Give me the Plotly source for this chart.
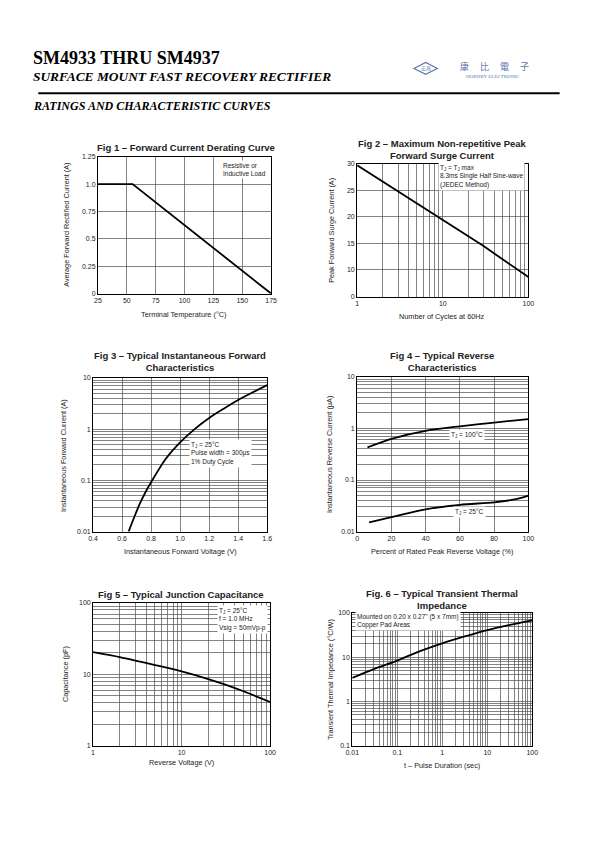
import plotly.graph_objects as go

W, H = 595, 842

# ---------------- data ----------------
# Fig 1
f1_temp = [25, 55, 175]
f1_current = [1.0, 1.0, 0.0]
f1_xticks = [25, 50, 75, 100, 125, 150, 175]
f1_yticks = [0, 0.25, 0.5, 0.75, 1.0, 1.25]
f1_ytext = ["0", "0.25", "0.5", "0.75", "1.0", "1.25"]

# Fig 2
f2_cycles = [1, 2, 3, 5, 10, 20, 30, 50, 100]
f2_current = [29.7, 26.6, 24.8, 22.5, 19.5, 16.4, 14.5, 12.0, 8.7]
f2_yticks = [5, 10, 15, 20, 25, 30]
f2_ytext = ["0", "10", "15", "20", "25", "30"]

# Fig 3
f3_voltage = [0.645, 0.68, 0.72, 0.76, 0.8, 0.9, 1.0, 1.1, 1.2, 1.3, 1.4, 1.5, 1.6]
f3_current = [0.01, 0.018, 0.034, 0.058, 0.092, 0.26, 0.55, 1.0, 1.65, 2.5, 3.7, 5.2, 7.2]
f3_xticks = [0.4, 0.6, 0.8, 1.0, 1.2, 1.4, 1.6]
f3_xtext = ["0.4", "0.6", "0.8", "1.0", "1.2", "1.4", "1.6"]

# Fig 4
f4_pct100 = [6, 20, 40, 60, 80, 100]
f4_i100 = [0.43, 0.63, 0.9, 1.1, 1.3, 1.52]
f4_pct25 = [7, 20, 40, 60, 80, 92, 100]
f4_i25 = [0.015, 0.019, 0.027, 0.033, 0.037, 0.042, 0.05]
f4_xticks = [0, 20, 40, 60, 80, 100]

# Fig 5
f5_voltage = [1, 2, 3, 5, 10, 20, 30, 50, 100]
f5_cap = [20.5, 17.5, 15.6, 13.5, 11.0, 8.6, 7.3, 5.8, 4.1]

# Fig 6
f6_time = [0.01, 0.03, 0.1, 0.3, 1, 3, 10, 30, 100]
f6_imp = [3.4, 5.4, 8.4, 13.4, 20.6, 29, 41, 53, 68]

# ---------------- helpers ----------------
FONT = "Arial, Liberation Sans, sans-serif"
SERIF = "Times New Roman, Liberation Serif, serif"
GRID = "#505050"
BLUE = "#5b78ad"


def px(x):
    return x / W


def py(y):
    return 1 - y / H


def log_major(lo_exp, hi_exp):
    vals = [10 ** e for e in range(lo_exp, hi_exp + 1)]
    return vals, ["%g" % v for v in vals]


def log_minor(lo_exp, hi_exp):
    return [m * 10 ** e for e in range(lo_exp, hi_exp) for m in range(2, 10)]


def axis(domain, anchor, minor_vals=None, **kw):
    d = dict(domain=domain, anchor=anchor, showline=True, linecolor="black",
             linewidth=1, mirror=True, showgrid=True, gridcolor=GRID,
             gridwidth=0.7, ticks="", zeroline=False,
             tickfont=dict(family=FONT, size=7, color="#222"), fixedrange=True)
    if minor_vals is not None:
        d["minor"] = dict(tickmode="array", tickvals=minor_vals, showgrid=True,
                          gridcolor=GRID, gridwidth=0.7, ticks="")
    d.update(kw)
    return d


fig = go.Figure()
LINE = dict(color="black", width=1.8)
SPL = dict(color="black", width=1.8, shape="spline", smoothing=0.8)

fig.add_trace(go.Scatter(x=f1_temp, y=f1_current, mode="lines", line=LINE,
                         xaxis="x", yaxis="y"))
fig.add_trace(go.Scatter(x=f2_cycles, y=f2_current, mode="lines", line=LINE,
                         xaxis="x2", yaxis="y2"))
fig.add_trace(go.Scatter(x=f3_voltage, y=f3_current, mode="lines", line=SPL,
                         xaxis="x3", yaxis="y3"))
fig.add_trace(go.Scatter(x=f4_pct100, y=f4_i100, mode="lines", line=SPL,
                         xaxis="x4", yaxis="y4"))
fig.add_trace(go.Scatter(x=f4_pct25, y=f4_i25, mode="lines", line=SPL,
                         xaxis="x4", yaxis="y4"))
fig.add_trace(go.Scatter(x=f5_voltage, y=f5_cap, mode="lines", line=SPL,
                         xaxis="x5", yaxis="y5"))
fig.add_trace(go.Scatter(x=f6_time, y=f6_imp, mode="lines", line=SPL,
                         xaxis="x6", yaxis="y6"))

# plot-area boxes (pixels): left, right, top, bottom
B1 = (93, 270, 154, 292)
B2 = (358, 533, 161, 295)
B3 = (88, 266, 377, 532)
B4 = (358, 533, 376, 532)
B5 = (88, 269, 604, 748)
B6 = (353, 537, 614, 748)


def dom(b):
    return [px(b[0]), px(b[1])], [py(b[3]), py(b[2])]


x1d, y1d = dom(B1)
x2d, y2d = dom(B2)
x3d, y3d = dom(B3)
x4d, y4d = dom(B4)
x5d, y5d = dom(B5)
x6d, y6d = dom(B6)

x2v, x2t = log_major(0, 2)
y3v, y3t = log_major(-2, 1)
y4v, y4t = log_major(-2, 1)
x5v, x5t = log_major(0, 2)
y5v, y5t = log_major(0, 2)
x6v, x6t = log_major(-2, 2)
y6v, y6t = log_major(-1, 2)

layout = dict(
    width=W, height=H, margin=dict(l=0, r=0, t=0, b=0),
    paper_bgcolor="white", plot_bgcolor="white", showlegend=False,
    xaxis=axis(x1d, "y", range=[25, 175], tickvals=f1_xticks),
    yaxis=axis(y1d, "x", range=[0, 1.25], tickvals=f1_yticks, ticktext=f1_ytext),
    xaxis2=axis(x2d, "y2", log_minor(0, 2), type="log", range=[0, 2], tickvals=x2v, ticktext=x2t),
    yaxis2=axis(y2d, "x2", range=[5, 30], tickvals=f2_yticks, ticktext=f2_ytext),
    xaxis3=axis(x3d, "y3", range=[0.4, 1.6], tickvals=f3_xticks, ticktext=f3_xtext),
    yaxis3=axis(y3d, "x3", log_minor(-2, 1), type="log", range=[-2, 1], tickvals=y3v, ticktext=y3t),
    xaxis4=axis(x4d, "y4", range=[0, 100], tickvals=f4_xticks),
    yaxis4=axis(y4d, "x4", log_minor(-2, 1), type="log", range=[-2, 1], tickvals=y4v, ticktext=y4t),
    xaxis5=axis(x5d, "y5", log_minor(0, 2), type="log", range=[0, 2], tickvals=x5v, ticktext=x5t),
    yaxis5=axis(y5d, "x5", log_minor(0, 2), type="log", range=[0, 2], tickvals=y5v, ticktext=y5t),
    xaxis6=axis(x6d, "y6", log_minor(-2, 2), type="log", range=[-2, 2], tickvals=x6v, ticktext=x6t),
    yaxis6=axis(y6d, "x6", log_minor(-1, 2), type="log", range=[-1, 2], tickvals=y6v, ticktext=y6t),
)
fig.update_layout(**layout)

ann = []


def text(x, y, s, size=7, bold=False, family=FONT, anchor="center", angle=0,
         color="#222", bg=None, align="center"):
    d = dict(x=px(x), y=py(y), xref="paper", yref="paper", text=s,
             showarrow=False, xanchor=anchor, yanchor="middle", textangle=angle,
             font=dict(family=family, size=size, color=color), align=align)
    if bold:
        d["text"] = "<b>" + s + "</b>"
    if bg:
        d["bgcolor"] = bg
        d["borderpad"] = 1
    ann.append(d)


# header
text(25, 54, "SM4933 THRU SM4937", size=18, bold=True, family=SERIF, anchor="left", color="black")
text(25, 73, "<i>SURFACE MOUNT FAST RECOVERY RECTIFIER</i>", size=13.4, bold=True,
     family=SERIF, anchor="left", color="black")
text(25, 103, "<i>RATINGS AND CHARACTERISTIC CURVES</i>", size=12, bold=True,
     family=SERIF, anchor="left", color="black")
text(498, 63, "康　 比　 電　 子", size=9, family="Noto Sans CJK TC", color=BLUE)
text(497, 73, "HORNBY ELECTRONIC", size=5, family=SERIF, color=BLUE)
text(428, 65, "宏昌", size=5, family="Noto Sans CJK TC", color=BLUE)

# titles
TS = 9.5
text(183, 145, "Fig 1 – Forward Current Derating Curve", size=TS, bold=True)
text(445, 147, "Fig 2 – Maximum Non-repetitive Peak<br>Forward Surge Current", size=TS, bold=True)
text(177, 361, "Fig 3 – Typical Instantaneous Forward<br>Characteristics", size=TS, bold=True)
text(445, 360, "Fig 4 – Typical Reverse<br>Characteristics", size=TS, bold=True)
text(178, 595, "Fig 5 – Typical Junction Capacitance", size=TS, bold=True)
text(445, 600, "Fig. 6 – Typical Transient Thermal<br>Impedance", size=TS, bold=True)

# axis titles
AS = 7.3
text(181, 313, "Terminal Temperature (°C)", size=AS)
text(445, 315, "Number of Cycles at 60Hz", size=AS)
text(177, 552, "Instantaneous Forward Voltage (V)", size=AS)
text(445, 552, "Percent of Rated Peak Reverse Voltage (%)", size=AS)
text(178, 765, "Reverse Voltage (V)", size=AS)
text(445, 768, "t – Pulse Duration (sec)", size=AS)

text(60, 223, "Average Forward Rectified Current (A)", size=AS, angle=-90)
text(331, 228, "Peak Forward Surge Current (A)", size=AS, angle=-90)
text(57, 455, "Instantaneous Forward Current (A)", size=AS, angle=-90)
text(329, 454, "Instantaneous Reverse Current (μA)", size=AS, angle=-90)
text(60, 676, "Capacitance (pF)", size=AS, angle=-90)
text(331, 681, "Transient Thermal Impedance (°C/W)", size=AS, angle=-90)

# in-plot notes
NS = 6.5
text(219, 167, "Resistive or<br>Inductive Load", size=NS, anchor="left", bg="white", align="left")
text(441, 174, "T<sub>J</sub> = T<sub>J</sub> max<br>8.3ms Single Half Sine-wave<br>(JEDEC Method)",
     size=NS, anchor="left", bg="white", align="left")
text(186, 453, "T<sub>J</sub> = 25°C<br>Pulse width = 300μs<br>1% Duty Cycle",
     size=NS, anchor="left", bg="white", align="left")
text(470, 435, "T<sub>J</sub> = 100°C", size=NS, bg="white")
text(473, 512, "T<sub>J</sub> = 25°C", size=NS, bg="white")
text(215, 621, "T<sub>J</sub> = 25°C<br>f = 1.0 MHz<br>Vsig = 50mVp-p", size=NS, anchor="left",
     bg="white", align="left")
text(356, 622, "Mounted on 0.20 x 0.27\" (5 x 7mm)<br>Copper Pad Areas", size=NS, anchor="left",
     bg="white", align="left")

fig.update_layout(annotations=ann)

# header rule and logo diamond
fig.add_shape(type="line", xref="paper", yref="paper", x0=px(32), x1=px(565),
              y0=py(90), y1=py(90), line=dict(color="black", width=2))
fig.add_shape(type="path", xref="paper", yref="paper",
              path=f"M {px(416)} {py(65)} L {px(428)} {py(59)} L {px(440)} {py(65)} L {px(428)} {py(71)} Z",
              line=dict(color=BLUE, width=1.2))

fig.write_html("out.html", config={"displayModeBar": False, "staticPlot": True},
               post_script="document.body.style.margin='0px';document.body.style.overflow='hidden';")
